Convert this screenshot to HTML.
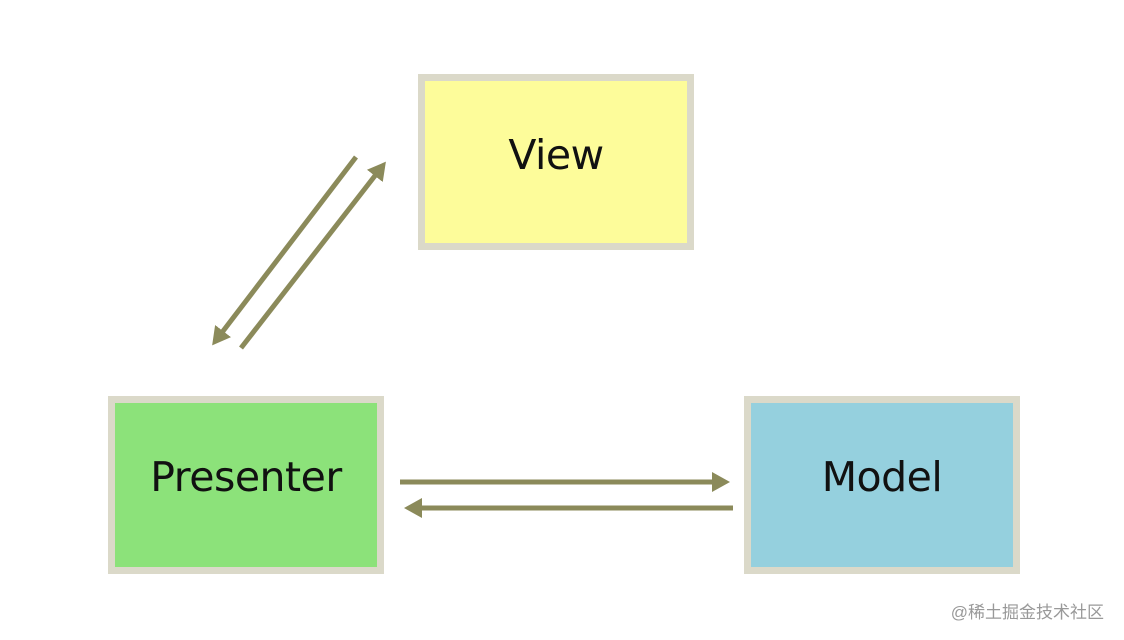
<!DOCTYPE html>
<html><head><meta charset="utf-8"><style>
body{margin:0;width:1124px;height:640px;background:#fff;position:relative;overflow:hidden;font-family:"DejaVu Sans","Liberation Sans",sans-serif}
.b{position:absolute;box-sizing:border-box;border:7px solid #dbd9c9;display:flex;align-items:center;justify-content:center;font-size:41px;color:#111;letter-spacing:-0.5px}
.w{position:absolute;right:20px;top:598px;font-size:17px;color:#999;font-family:"Liberation Sans","Noto Sans CJK SC",sans-serif}
</style></head><body>
<div class="b" style="left:418px;top:74px;width:276px;height:176px;background:#fdfc9a;padding-bottom:14px">View</div>
<div class="b" style="left:108px;top:396px;width:276px;height:178px;background:#8ce27a;padding-bottom:16px">Presenter</div>
<div class="b" style="left:744px;top:396px;width:276px;height:178px;background:#95d0de;padding-bottom:16px">Model</div>
<svg width="1124" height="640" style="position:absolute;left:0;top:0">
<defs><marker id="a" markerWidth="5" markerHeight="5" refX="2" refY="2.2" orient="auto" markerUnits="strokeWidth"><path d="M0,0.2 L3.6,2.2 L0,4.2 Z" fill="#8b8a5a"/></marker></defs>
<g stroke="#8b8a5a" stroke-width="5" fill="none">
<line x1="400" y1="482" x2="722" y2="482" marker-end="url(#a)"/>
<line x1="733" y1="508" x2="412" y2="508" marker-end="url(#a)"/>
<line x1="356" y1="157" x2="217" y2="339" marker-end="url(#a)"/>
<line x1="241" y1="348" x2="381" y2="168" marker-end="url(#a)"/>
</g></svg>
<div class="w">@稀土掘金技术社区</div>
</body></html>
